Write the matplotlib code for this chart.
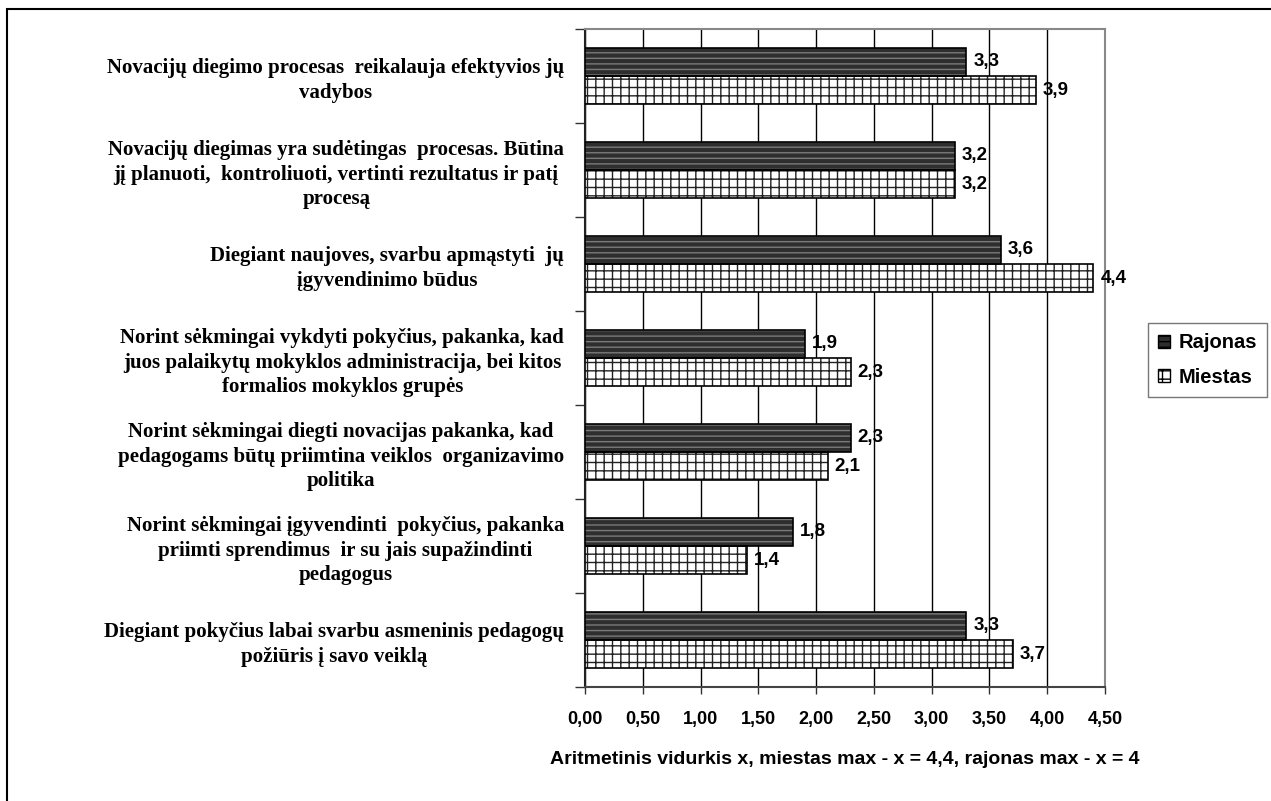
import matplotlib.pyplot as plt
import numpy as np
from matplotlib.patches import Rectangle, Patch

categories = [
    'Novacijų diegimo procesas  reikalauja efektyvios jų\nvadybos',
    'Novacijų diegimas yra sudėtingas  procesas. Būtina\njį planuoti,  kontroliuoti, vertinti rezultatus ir patį\nprocesą',
    'Diegiant naujoves, svarbu apmąstyti  jų\nįgyvendinimo būdus',
    'Norint sėkmingai vykdyti pokyčius, pakanka, kad\njuos palaikytų mokyklos administracija, bei kitos\nformalios mokyklos grupės',
    'Norint sėkmingai diegti novacijas pakanka, kad\npedagogams būtų priimtina veiklos  organizavimo\npolitika',
    'Norint sėkmingai įgyvendinti  pokyčius, pakanka\npriimti sprendimus  ir su jais supažindinti\npedagogus',
    'Diegiant pokyčius labai svarbu asmeninis pedagogų\npožiūris į savo veiklą',
]
rajonas = [3.3, 3.2, 3.6, 1.9, 2.3, 1.8, 3.3]
miestas = [3.9, 3.2, 4.4, 2.3, 2.1, 1.4, 3.7]
series_names = ['Rajonas', 'Miestas']
xticks = [0.0, 0.5, 1.0, 1.5, 2.0, 2.5, 3.0, 3.5, 4.0, 4.5]
xlabel = 'Aritmetinis vidurkis x, miestas max - x = 4,4, rajonas max - x = 4'

plt.rcParams['font.family'] = ['Liberation Sans', 'DejaVu Sans']
plt.rcParams['hatch.linewidth'] = 1.0

fig = plt.figure(figsize=(12.71, 8.01), dpi=100)
ax = fig.add_axes([585 / 1271, 1 - 687 / 801, 520 / 1271, 658 / 801])

n = len(categories)
y = np.arange(n)
h = 0.3
dark = '#2e2e2e'

# Rajonas: dark fill with gray texture, then black outline
ax.barh(y - h / 2, rajonas, height=h, color=dark, edgecolor='#7a7a7a', hatch='---', linewidth=0, zorder=3)
ax.barh(y - h / 2, rajonas, height=h, fill=False, edgecolor='black', linewidth=1.2, zorder=4)
# Miestas: white with brick-like grid
ax.barh(y + h / 2, miestas, height=h, color='white', edgecolor='#222222', hatch='++', linewidth=0, zorder=3)
ax.barh(y + h / 2, miestas, height=h, fill=False, edgecolor='black', linewidth=1.2, zorder=4)

for yi, v in zip(y, rajonas):
    ax.text(v + 0.06, yi - h / 2, f'{v:.1f}'.replace('.', ','), va='center', ha='left',
            fontsize=13.5, fontweight='bold', zorder=5)
for yi, v in zip(y, miestas):
    ax.text(v + 0.06, yi + h / 2, f'{v:.1f}'.replace('.', ','), va='center', ha='left',
            fontsize=13.5, fontweight='bold', zorder=5)

ax.set_xlim(0, 4.5)
ax.set_ylim(n - 0.5, -0.5)
ax.set_xticks(xticks)
ax.set_xticklabels([f'{t:.2f}'.replace('.', ',') for t in xticks], fontsize=13, fontweight='bold')
ax.tick_params(axis='x', length=5, width=1, pad=12, color='#333333')
ax.xaxis.grid(True, color='black', linewidth=1, zorder=0)
ax.set_axisbelow(True)

ax.set_yticks(y)
ax.set_yticklabels(categories, fontsize=15, fontweight='bold',
                   fontfamily=['Liberation Serif', 'DejaVu Serif'], linespacing=1.3)
for lab in ax.get_yticklabels():
    lab.set_multialignment('center')
ax.set_yticks(np.arange(n + 1) - 0.5, minor=True)
ax.tick_params(axis='y', which='major', length=0, pad=15)
ax.tick_params(axis='y', which='minor', length=7, width=1, color='#333333')

ax.set_xlabel(xlabel, fontsize=14, fontweight='bold', labelpad=17)

ax.spines['left'].set_color('#222222')
ax.spines['left'].set_linewidth(1.5)
ax.spines['bottom'].set_color('#444444')
ax.spines['bottom'].set_linewidth(1.5)
ax.spines['top'].set_color('#888888')
ax.spines['top'].set_linewidth(1.5)
ax.spines['right'].set_color('#888888')
ax.spines['right'].set_linewidth(1.5)

handles = [
    Patch(facecolor=dark, edgecolor='black', hatch='---', linewidth=1),
    Patch(facecolor='white', edgecolor='black', hatch='++', linewidth=1),
]
leg = fig.legend(handles, series_names, loc='center left', bbox_to_anchor=(1148 / 1271, 1 - 360 / 801),
                 prop={'size': 14.5, 'weight': 'bold'}, frameon=True, fancybox=False,
                 edgecolor='#555555', handlelength=0.6, handleheight=0.6, handletextpad=0.4,
                 borderpad=0.5, labelspacing=0.75, borderaxespad=0)
leg.get_frame().set_linewidth(1.0)

# outer chart border (continues beyond the right and bottom edges)
fig.add_artist(Rectangle((7 / 1271, -0.1), 1.2, 1 - 9 / 801 + 0.1, transform=fig.transFigure,
                         fill=False, edgecolor='black', linewidth=1.5))

fig.savefig('out.png', dpi=100)
